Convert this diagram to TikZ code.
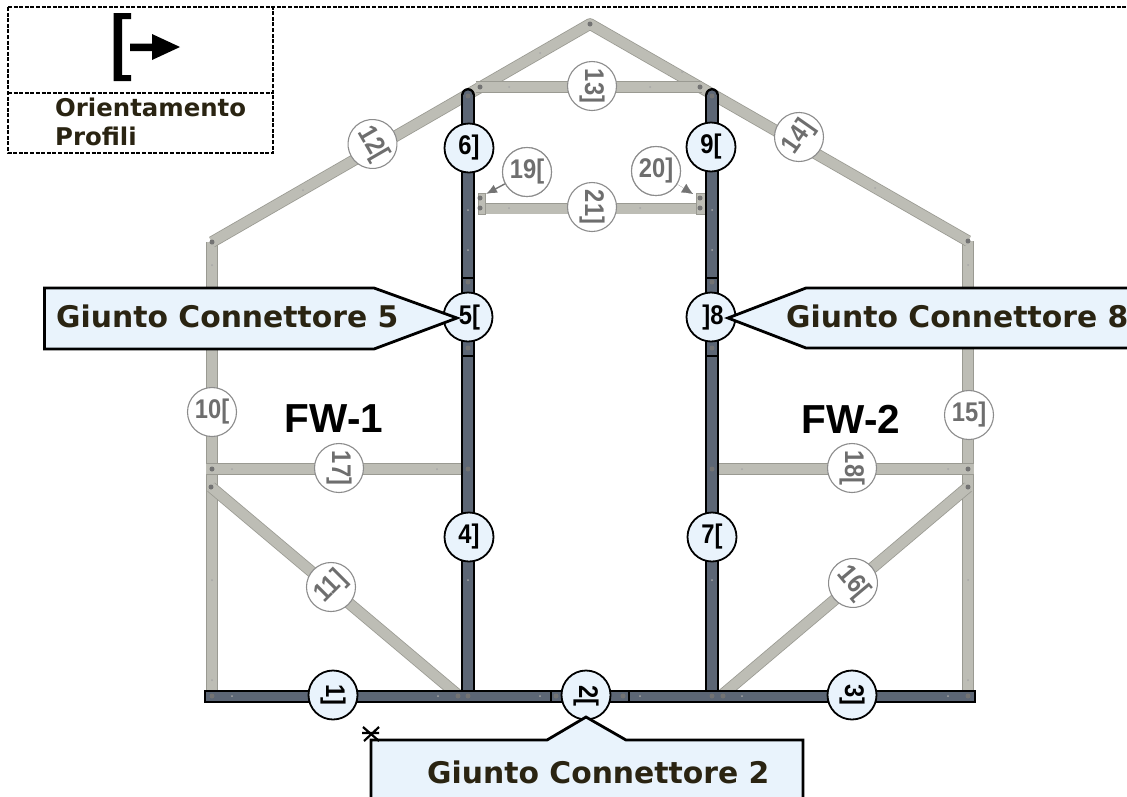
\documentclass[tikz,border=0pt]{standalone}
\usepackage{fontspec}
\usetikzlibrary{arrows.meta}
\setmainfont{Liberation Sans}
\newfontfamily\lblfont[FakeStretch=.88]{Liberation Sans}
\newfontfamily\djfont{DejaVu Sans}
\definecolor{slatebeam}{HTML}{5C6675}
\definecolor{lightbeam}{HTML}{BDBDB5}
\definecolor{lightedge}{HTML}{9A9A92}
\definecolor{pale}{HTML}{E9F3FC}
\definecolor{txtbrown}{HTML}{2A2412}
\definecolor{greytxt}{HTML}{6E6E6E}
\tikzset{
  darkbar/.style={draw=black,line width=2.2pt,double=slatebeam,double distance=9.2pt},
  lightbar/.style={draw=lightedge,line width=.8pt,double=lightbeam,double distance=10pt},
  darkdisc/.style={circle,draw=black,line width=1.8pt,fill=pale,minimum size=49pt,inner sep=0pt,font=\lblfont\bfseries\fontsize{27}{29}\selectfont,text=black},
  greydisc/.style={circle,draw=black!45,line width=1.1pt,fill=white,minimum size=49pt,inner sep=0pt,font=\lblfont\bfseries\fontsize{27}{29}\selectfont,text=greytxt},
  calloutbox/.style={draw=black,line width=2.8pt,fill=pale,line join=miter},
  callouttext/.style={font=\djfont\bfseries\fontsize{29.8}{32}\selectfont,text=txtbrown,inner sep=0pt,anchor=base west},
  legendtext/.style={font=\djfont\bfseries\fontsize{24.4}{26}\selectfont,text=txtbrown,inner sep=0pt,anchor=base west},
  fwtext/.style={font=\bfseries\fontsize{40.5}{42}\selectfont,text=black,inner sep=0pt},
  dashline/.style={draw=black,line width=1.5pt,dash pattern=on 4pt off 1.6pt},
  pivot/.style={circle,fill=black!55,inner sep=0pt,minimum size=5pt},
  rivet/.style={circle,fill=black!35,inner sep=0pt,minimum size=2pt},
  disclabel/.style={font=\lblfont\bfseries\fontsize{27}{29}\selectfont,text=black,inner sep=0pt}
}
\begin{document}
\begin{tikzpicture}[x=1pt,y=-1pt]
\useasboundingbox (0,0) rectangle (1127,796);
\clip (0,0) rectangle (1127,796);
\fill[white] (0,0) rectangle (1127,796);
% frame coordinates
\coordinate (apex) at (590,24);
\coordinate (shL) at (212,242);
\coordinate (shR) at (968,241);
\coordinate (baseL) at (212,691);
\coordinate (baseR) at (968,691);
\coordinate (t13L) at (476,87);
\coordinate (t13R) at (702,87);
\coordinate (t21L) at (478,208.5);
\coordinate (t21R) at (705,208.5);
\coordinate (t17L) at (206,469);
\coordinate (t17R) at (463,469);
\coordinate (t18L) at (717,469);
\coordinate (t18R) at (974,469);
\coordinate (d11a) at (211,487);
\coordinate (d11b) at (458,695);
\coordinate (d16a) at (968,487);
\coordinate (d16b) at (722,695);
\coordinate (v4b) at (468,691);
\coordinate (v4t) at (468,95);
\coordinate (v7b) at (712,691);
\coordinate (v7t) at (712,95);
\coordinate (bL) at (205.5,696.5);
\coordinate (bR) at (974,696.5);
% light bars
\draw[lightbar] (shL) -- (baseL);
\draw[lightbar] (shR) -- (baseR);
\draw[lightbar,line join=round] (shL) -- (apex) -- (shR);
\draw[lightbar] (t13L) -- (t13R);
\draw[lightbar] (t21L) -- (t21R);
\draw[lightbar] (t17L) -- (t17R);
\draw[lightbar] (t18L) -- (t18R);
\draw[lightbar] (d11a) -- (d11b);
\draw[lightbar] (d16a) -- (d16b);
% cleats of 19 and 20
\fill[lightbeam,draw=lightedge,line width=.6pt] (478,193) rectangle (485,214);
\fill[lightbeam,draw=lightedge,line width=.6pt] (696,193) rectangle (705,214);
% dark bars
\draw[black,line width=1pt,fill=black] (468,95) circle (6.4pt);
\draw[black,line width=1pt,fill=black] (712,95) circle (6.4pt);
\draw[darkbar] (v4b) -- (v4t);
\draw[darkbar] (v7b) -- (v7t);
\fill[slatebeam] (468,95) circle (4.6pt);
\fill[slatebeam] (712,95) circle (4.6pt);
\draw[darkbar] (bL) -- (bR);
\draw[draw=black,line width=1.8pt] (204.7,690) -- (204.7,703);
\draw[draw=black,line width=1.8pt] (974.8,690) -- (974.8,703);
\foreach \yy in {278,356} {
  \draw[black,line width=1.8pt] (462,\yy) -- (474,\yy);
  \draw[black,line width=1.8pt] (706,\yy) -- (718,\yy);
}
\draw[black,line width=2pt] (551,690) -- (551,703);
\draw[black,line width=2pt] (629,690) -- (629,703);
% pivots
\foreach \px/\py in {590/24,212/242,968/241,480/87,700/87,480/198,480/208,700/198,700/208,
  212/469,968/469,468/469,712/469,211/487,968/487,212/696,458/696,468/696,712/696,723/696,968/696,
  556/696,623/696,468/96,712/96,468/282,468/348,712/282,712/348}
  \node[pivot] at (\px,\py) {};
\foreach \px/\py in {232/469,437/469,232/696,438/696,540/696,640/696,742/696,948/696,742/469,948/469,
  212/265,212/680,212/580,968/265,968/680,968/580,468/580,712/580,468/250,712/250,468/210,712/210,
  509/87,650/87,509/208,640/208,303/190,540/53,682/72,875/188}
  \node[rivet] at (\px,\py) {};
% discs on light bars
\node[greydisc] (n10) at (212,412) {10[};
\node[greydisc] (n15) at (969,415) {15]};
\node[greydisc,rotate=45] (n11) at (331,587) {11]};
\node[greydisc,rotate=-50] (n16) at (853,583) {16[};
\node[greydisc,rotate=-90] (n17) at (339,468) {17]};
\node[greydisc,rotate=-90] (n18) at (852,468) {18[};
\node[greydisc,rotate=-60] (n12) at (372.5,144) {12[};
\node[greydisc,rotate=-90] (n13) at (592,86) {13]};
\node[greydisc,rotate=-90] (n21) at (592,207) {21]};
\node[greydisc,rotate=55] (n14) at (799,137) {14]};
\node[greydisc] (n19) at (527,172) {19[};
\node[greydisc] (n20) at (656,171) {20]};
\coordinate (c19) at (486,194);
\coordinate (c20) at (693,194);
\draw[-{Latex[length=11pt,width=9pt]},draw=black!55,line width=1.4pt] (n19) -- (c19);
\draw[-{Latex[length=11pt,width=10pt]},draw=black!55,line width=.1pt] (n20) -- (c20);
\node[greydisc] at (n19) {19[};
\node[greydisc] at (n20) {20]};
% discs on dark bars
\node[darkdisc,rotate=-90] (n1) at (333,695) {1]};
\node[darkdisc,rotate=-90] (n3) at (852,695) {3]};
\node[darkdisc,rotate=-90] (n2) at (586,695) {};
\node[darkdisc] (n4) at (469,537) {4]};
\node[darkdisc] (n7) at (712,537) {7[};
\node[darkdisc] (n6) at (469,148) {6]};
\node[darkdisc] (n9) at (711,147) {9[};
\node[darkdisc] (n5) at (468,317) {};
\node[darkdisc] (n8) at (711,317) {};
% callouts
\draw[calloutbox] (44.5,288) -- (374,288) -- (457,318) -- (374,349) -- (44.5,349) -- cycle;
\draw[calloutbox] (1140,288) -- (806,288) -- (728,318) -- (806,348) -- (1140,348) -- cycle;
\draw[calloutbox] (371,830) -- (371,740) -- (547,740) -- (586,717) -- (626,740) -- (803,740) -- (803,830) -- cycle;
\node[callouttext] (g5) at (56,327) {Giunto Connettore 5};
\node[callouttext] (g8) at (786,327) {Giunto Connettore 8};
\node[callouttext] (g2) at (427,783) {Giunto Connettore 2};
\node[disclabel] (l5) at (469.5,318) {5[};
\node[disclabel] (l8) at (713,318) {]8};
\node[disclabel,rotate=-90] (l2) at (586,696) {2[};
% cross mark
\draw[black,line width=2.2pt] (363,727) -- (379,741) (379,727) -- (364,741) (362,733) -- (379,733);
% FW labels
\node[fwtext] (fw1) at (334,419) {FW-1};
\node[fwtext] (fw2) at (851,419) {FW-2};
% legend
\draw[dashline] (8,7) -- (1127,7);
\draw[dashline] (8,7) -- (8,153) -- (273,153) -- (273,7);
\draw[dashline] (8,93) -- (273,93);
\fill[black] (113.5,13) -- (131,13) -- (131,19) -- (122,19) -- (122,75) -- (131,75) -- (131,81) -- (113.5,81) -- cycle;
\fill[black] (130,43.5) -- (152,43.5) -- (152,34) -- (180,47) -- (152,60) -- (152,51) -- (130,51) -- cycle;
\node[legendtext] (o1) at (55,116) {Orientamento};
\node[legendtext] (o2) at (55,145) {Profili};
\end{tikzpicture}
\end{document}
